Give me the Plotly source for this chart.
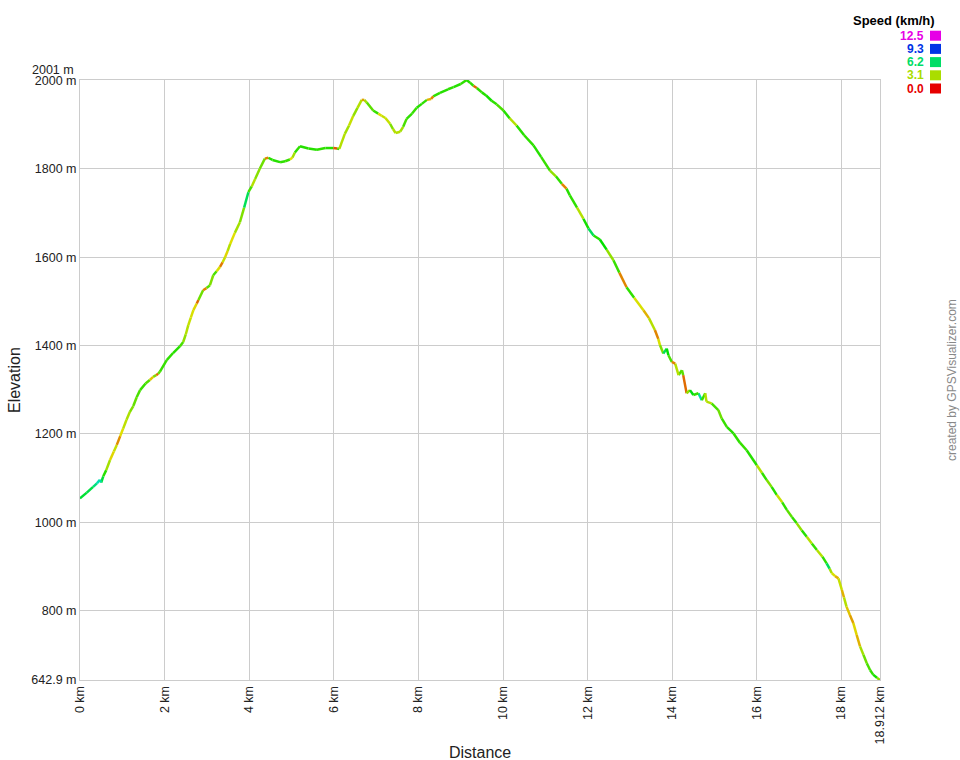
import colorsys
import plotly.graph_objects as go

# ---------------- data ----------------
dist_km = [0.00, 0.16, 0.31, 0.40, 0.47, 0.50, 0.55, 0.62, 0.71, 0.80, 0.87, 0.95, 1.02, 1.10, 1.18,
           1.26, 1.34, 1.42, 1.55, 1.65, 1.73, 1.80, 1.85, 1.89, 2.05, 2.20, 2.36, 2.44, 2.50, 2.56,
           2.62, 2.68, 2.76, 2.80, 2.91, 2.99, 3.07, 3.15, 3.23, 3.31, 3.37, 3.43, 3.49, 3.55, 3.66,
           3.78, 3.88, 3.98, 4.06, 4.14, 4.25, 4.37, 4.45, 4.55, 4.73, 4.85, 4.96, 5.02, 5.08, 5.20,
           5.40, 5.60, 5.80, 5.99, 6.08, 6.13, 6.26, 6.36, 6.46, 6.56, 6.66, 6.72, 6.78, 6.93, 7.05,
           7.13, 7.22, 7.33, 7.40, 7.46, 7.57, 7.64, 7.72, 7.85, 7.96, 8.08, 8.20, 8.30, 8.35, 8.51,
           8.70, 8.83, 9.00, 9.14, 9.22, 9.30, 9.38, 9.50, 9.60, 9.73, 9.85, 10.01, 10.16, 10.32, 10.50,
           10.72, 10.90, 11.11, 11.25, 11.39, 11.50, 11.58, 11.75, 11.90, 12.02, 12.14, 12.29, 12.45, 12.61, 12.75,
           12.92, 13.10, 13.32, 13.45, 13.59, 13.67, 13.71, 13.79, 13.87, 13.91, 13.99, 14.07, 14.15, 14.23, 14.26,
           14.34, 14.42, 14.50, 14.62, 14.70, 14.78, 14.81, 14.93, 15.09, 15.17, 15.29, 15.45, 15.60, 15.76, 16.00,
           16.12, 16.23, 16.35, 16.47, 16.60, 16.71, 16.83, 16.94, 17.06, 17.18, 17.30, 17.42, 17.55, 17.65, 17.72,
           17.77, 17.85, 17.93, 18.01, 18.06, 18.12, 18.20, 18.28, 18.36, 18.44, 18.52, 18.60, 18.68, 18.75, 18.84,
           18.912]

elev_m = [1054, 1067, 1080, 1088, 1096, 1090, 1104, 1118, 1141, 1160, 1175, 1195, 1212, 1232, 1250,
          1263, 1283, 1299, 1314, 1322, 1329, 1333, 1336, 1341, 1367, 1383, 1398, 1408, 1425, 1446,
          1463, 1480, 1495, 1503, 1525, 1530, 1536, 1559, 1568, 1578, 1588, 1600, 1614, 1630, 1655,
          1679, 1712, 1747, 1760, 1777, 1800, 1823, 1825, 1820, 1815, 1817, 1821, 1825, 1837, 1851,
          1846, 1843, 1847, 1847, 1846, 1845, 1879, 1898, 1920, 1938, 1956, 1956, 1950, 1932, 1925,
          1920, 1915, 1902, 1890, 1881, 1884, 1895, 1913, 1925, 1938, 1947, 1956, 1958, 1964, 1972,
          1980, 1985, 1992, 2001, 1995, 1988, 1983, 1973, 1966, 1954, 1946, 1932, 1914, 1898, 1876,
          1853, 1827, 1796, 1783, 1766, 1755, 1740, 1712, 1687, 1665, 1649, 1640, 1617, 1593, 1565,
          1532, 1508, 1480, 1462, 1435, 1415, 1401, 1382, 1393, 1378, 1363, 1359, 1333, 1344, 1333,
          1292, 1299, 1288, 1292, 1276, 1292, 1273, 1269, 1254, 1235, 1216, 1201, 1180, 1163, 1129,
          1112, 1096, 1080, 1062, 1045, 1028, 1012, 998, 982, 967, 952, 937, 922, 907, 895,
          885, 878, 873, 847, 830, 809, 790, 772, 745, 719, 700, 681, 665, 655, 648,
          642.9]

speed_kmh = [5.6, 5.6, 5.8, 6.4, 7.0, 6.8, 5.6, 4.6, 3.2, 2.4, 2.8, 1.6, 2.5, 2.9, 3.1,
             3.6, 3.9, 4.2, 4.4, 4.1, 2.2, 3.6, 1.2, 4.0, 4.4, 4.5, 4.6, 4.2, 3.4, 3.0,
             2.8, 2.6, 2.4, 1.2, 3.8, 1.5, 4.0, 3.6, 4.2, 2.6, 1.4, 2.8, 2.4, 3.0, 2.5,
             3.2, 3.6, 6.0, 4.2, 3.0, 3.5, 3.8, 1.5, 4.6, 4.6, 4.5, 4.4, 2.5, 3.2, 4.5,
             4.6, 4.6, 4.5, 4.6, 1.0, 4.4, 3.0, 3.2, 2.8, 3.4, 3.0, 1.8, 3.2, 4.0, 4.4,
             2.6, 2.8, 2.8, 3.6, 3.0, 3.0, 3.2, 4.2, 4.5, 4.4, 4.6, 4.5, 2.0, 1.5, 4.5,
             4.6, 4.5, 4.6, 4.5, 4.6, 4.5, 1.2, 4.5, 4.6, 4.8, 4.5, 4.2, 4.6, 3.0, 4.6,
             4.5, 4.6, 4.4, 3.4, 4.5, 1.5, 4.6, 4.5, 3.0, 4.8, 6.0, 4.6, 5.0, 3.4, 4.4,
             1.5, 4.5, 2.6, 2.0, 3.0, 1.5, 2.6, 3.6, 6.0, 5.0, 4.2, 1.5, 3.0, 4.2, 4.0,
             1.2, 3.4, 5.2, 4.4, 6.8, 4.4, 3.0, 3.0, 4.2, 3.8, 4.4, 4.6, 4.5, 4.4, 4.6,
             3.0, 4.5, 3.6, 4.6, 2.8, 4.5, 4.0, 4.5, 3.4, 4.6, 3.0, 4.4, 3.0, 4.5, 6.0,
             3.2, 2.6, 2.0, 2.8, 2.0, 3.0, 2.2, 1.8, 2.4, 2.0, 3.2, 3.8, 4.2, 4.5, 4.8,
             3.5]

x_tickvals = [0, 2, 4, 6, 8, 10, 12, 14, 16, 18, 18.912]
x_ticktext = ["0 km", "2 km", "4 km", "6 km", "8 km", "10 km", "12 km", "14 km", "16 km", "18 km", "18.912 km"]
y_tickvals = [642.9, 800, 1000, 1200, 1400, 1600, 1800, 2000]
y_ticktext = ["642.9 m", "800 m", "1000 m", "1200 m", "1400 m", "1600 m", "1800 m", "2000 m"]
y_max = 2001
y_max_label = "2001 m"

legend_values = ["12.5", "9.3", "6.2", "3.1", "0.0"]
legend_colors = ["#e600e6", "#0033e6", "#00dd66", "#aadd00", "#e60000"]
legend_title = "Speed (km/h)"

# ---------------- colour scale ----------------
stop_speeds = [0.0, 3.1, 6.2, 9.3, 12.5]
stop_hues = [0.0, 74.0, 148.0, 227.0, 300.0]


def speed_color(s):
    s = max(0.0, min(12.5, s))
    h = 0.0
    for i in range(len(stop_speeds) - 1):
        if stop_speeds[i] <= s <= stop_speeds[i + 1]:
            t = (s - stop_speeds[i]) / (stop_speeds[i + 1] - stop_speeds[i])
            h = stop_hues[i] + t * (stop_hues[i + 1] - stop_hues[i])
            break
    r, g, b = colorsys.hsv_to_rgb(h / 360.0, 1.0, 0.88)
    return "#%02x%02x%02x" % (int(r * 255), int(g * 255), int(b * 255))


groups = {}
for i in range(len(dist_km) - 1):
    c = speed_color(speed_kmh[i + 1])
    gx, gy = groups.setdefault(c, ([], []))
    gx += [dist_km[i], dist_km[i + 1], None]
    gy += [elev_m[i], elev_m[i + 1], None]

fig = go.Figure()
for c, (gx, gy) in groups.items():
    fig.add_trace(go.Scatter(x=gx, y=gy, mode="lines",
                             line=dict(color=c, width=2.5),
                             hoverinfo="skip", showlegend=False))

FONT = "Liberation Sans, Arial, sans-serif"
grid = "#cccccc"
TICK = 12.5

fig.update_layout(
    width=960, height=760,
    margin=dict(l=80, r=80, t=80, b=80),
    paper_bgcolor="white", plot_bgcolor="white",
    font=dict(family=FONT, size=12, color="#222222"),
    showlegend=False,
    xaxis=dict(range=[0, 18.912], tickvals=x_tickvals, ticktext=x_ticktext,
               tickangle=-90, showgrid=True, gridcolor=grid, gridwidth=1,
               zeroline=False, showline=True, linecolor=grid, mirror=True,
               ticks="", tickfont=dict(size=TICK, color="#222222")),
    yaxis=dict(range=[642.9, y_max], tickvals=y_tickvals, ticktext=y_ticktext,
               showgrid=True, gridcolor=grid, gridwidth=1,
               zeroline=False, showline=True, linecolor=grid, mirror=True,
               ticks="", tickfont=dict(size=TICK, color="#222222")),
)


def px(xp):
    return (xp - 80) / 800.0


def py(yp):
    return (680 - yp) / 600.0


ann = []
ann.append(dict(x=0, y=y_max, xref="paper", yref="y", text=y_max_label,
                showarrow=False, xanchor="right", yanchor="middle",
                xshift=-4, yshift=10, font=dict(size=TICK, color="#222222")))
ann.append(dict(x=0.5, y=py(752), xref="paper", yref="paper", text="Distance",
                showarrow=False, xanchor="center", yanchor="middle",
                font=dict(size=16, color="#222222")))
ann.append(dict(x=px(14), y=py(380), xref="paper", yref="paper", text="Elevation",
                showarrow=False, xanchor="center", yanchor="middle", textangle=-90,
                font=dict(size=16, color="#222222")))
ann.append(dict(x=px(952), y=py(380), xref="paper", yref="paper",
                text="created by GPSVisualizer.com",
                showarrow=False, xanchor="center", yanchor="middle", textangle=-90,
                font=dict(size=12, color="#888888")))
ann.append(dict(x=px(937), y=py(21), xref="paper", yref="paper",
                text="<b>" + legend_title + "</b>",
                showarrow=False, xanchor="right", yanchor="middle",
                font=dict(size=13, color="#000000")))

shapes = []
for k, (v, c) in enumerate(zip(legend_values, legend_colors)):
    yc = 35.7 + k * 13.2
    ann.append(dict(x=px(926), y=py(yc), xref="paper", yref="paper",
                    text="<b>" + v + "</b>", showarrow=False,
                    xanchor="right", yanchor="middle",
                    font=dict(size=12, color=c)))
    shapes.append(dict(type="rect", xref="paper", yref="paper",
                       x0=px(930), x1=px(941), y0=py(yc + 5), y1=py(yc - 5),
                       fillcolor=c, line=dict(width=0)))

fig.update_layout(annotations=ann, shapes=shapes)

fig.write_html("out.html", config={"displayModeBar": False})

# remove the default page margin so the figure sits at the window's top-left corner
with open("out.html", "r", encoding="utf-8") as f:
    html = f.read()
html = html.replace("<body>", '<body style="margin:0;padding:0;overflow:hidden">', 1)
with open("out.html", "w", encoding="utf-8") as f:
    f.write(html)
